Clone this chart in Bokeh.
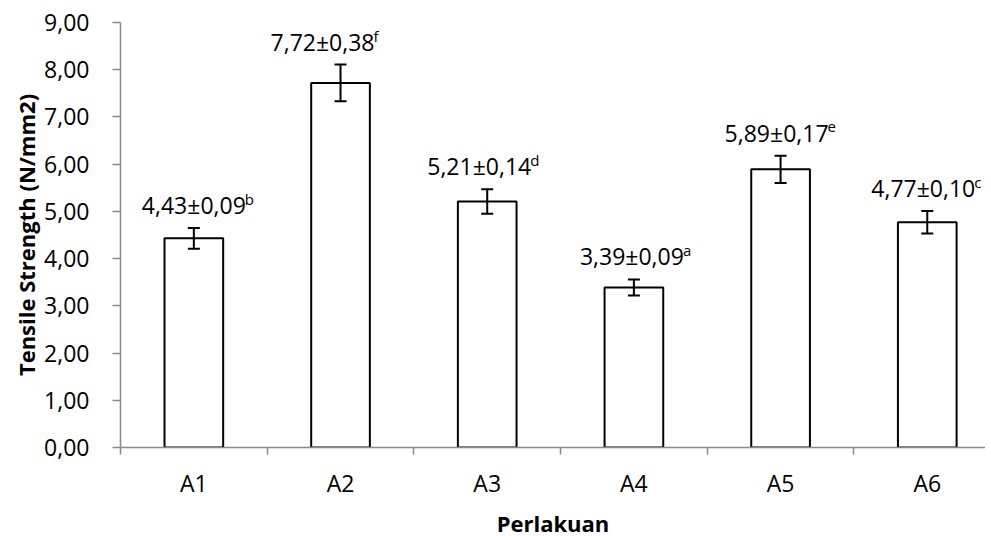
from bokeh.plotting import figure
from bokeh.models import Range1d, FixedTicker, Whisker, ColumnDataSource, TeeHead
from bokeh.core.properties import value
from bokeh.embed import file_html
from bokeh.resources import INLINE

categories = ["A1", "A2", "A3", "A4", "A5", "A6"]
means = [4.43, 7.72, 5.21, 3.39, 5.89, 4.77]
sd_text = ["0,09", "0,38", "0,14", "0,09", "0,17", "0,10"]
letters = ["b", "f", "d", "a", "e", "c"]
err = [0.22, 0.39, 0.26, 0.17, 0.29, 0.24]
y_ticks = [0, 1, 2, 3, 4, 5, 6, 7, 8, 9]
y_tick_labels = ["0,00", "1,00", "2,00", "3,00", "4,00", "5,00", "6,00", "7,00", "8,00", "9,00"]
x_title = "Perlakuan"
y_title = "Tensile Strength (N/mm2)"
label_shift = [4, -14, -4, 2, 0, 0]

FONT = "Open Sans"
AXIS_COLOR = "#898989"

xs = [i + 0.5 for i in range(len(categories))]
main_txt = [f"{m:.2f}".replace(".", ",") + "\u00b1" + s for m, s in zip(means, sd_text)]
main_dx = [d - 4 for d in label_shift]
sup_dx = [d + 51 for d in main_dx]

src = ColumnDataSource(dict(
    x=xs, top=means,
    upper=[m + e for m, e in zip(means, err)],
    lower=[m - e for m, e in zip(means, err)],
    main=main_txt, sup=letters, mdx=main_dx, sdx=sup_dx,
))

p = figure(frame_width=865, frame_height=425, output_backend="svg", toolbar_location=None,
           x_range=Range1d(0, 5.897), y_range=Range1d(0, 9),
           min_border_left=120, min_border_top=22, min_border_right=0, min_border_bottom=0)
p.outline_line_color = None
p.xgrid.visible = False
p.ygrid.visible = False
p.background_fill_color = "white"
p.border_fill_color = "white"

p.vbar(x="x", top="top", width=0.4, bottom=0, source=src,
       fill_color="white", line_color="black", line_width=2)

wh = Whisker(source=src, base="x", upper="upper", lower="lower",
             line_color="black", line_width=2, level="annotation",
             upper_head=TeeHead(size=12, line_color="black", line_width=2),
             lower_head=TeeHead(size=12, line_color="black", line_width=2))
p.add_layout(wh)

p.text(x="x", y="upper", text="main", source=src, x_offset="mdx", y_offset=-23,
       text_align="center", text_baseline="alphabetic",
       text_font=value(FONT), text_font_size="23px", text_color="black")
p.text(x="x", y="upper", text="sup", source=src, x_offset="sdx", y_offset=-29,
       text_align="left", text_baseline="alphabetic",
       text_font=value(FONT), text_font_size="15px", text_color="black")

# y axis
ya = p.yaxis[0]
ya.ticker = FixedTicker(ticks=y_ticks)
ya.major_label_overrides = {t: l for t, l in zip(y_ticks, y_tick_labels)}
ya.minor_tick_line_color = None
ya.major_tick_in = 0
ya.major_tick_out = 8
ya.major_label_standoff = 23
ya.axis_line_color = AXIS_COLOR
ya.axis_line_width = 1.5
ya.major_tick_line_color = AXIS_COLOR
ya.major_tick_line_width = 1.5
ya.major_label_text_font = FONT
ya.major_label_text_font_size = "23px"
ya.major_label_text_color = "black"
ya.axis_label = y_title
ya.axis_label_text_font = FONT
ya.axis_label_text_font_style = "bold"
ya.axis_label_text_font_size = "22px"
ya.axis_label_text_color = "black"
ya.axis_label_standoff = 0

# x axis
xa = p.xaxis[0]
xa.ticker = FixedTicker(ticks=xs, minor_ticks=[0, 1, 2, 3, 4, 5, 6])
xa.major_label_overrides = {x: c for x, c in zip(xs, categories)}
xa.major_tick_in = 0
xa.major_tick_out = 0
xa.minor_tick_in = 0
xa.minor_tick_out = 7
xa.minor_tick_line_color = AXIS_COLOR
xa.minor_tick_line_width = 1.5
xa.axis_line_color = AXIS_COLOR
xa.axis_line_width = 1.5
xa.major_label_standoff = 12
xa.major_label_text_font = FONT
xa.major_label_text_font_size = "23px"
xa.major_label_text_color = "black"
xa.axis_label = x_title
xa.axis_label_text_font = FONT
xa.axis_label_text_font_style = "bold"
xa.axis_label_text_font_size = "22px"
xa.axis_label_text_color = "black"
xa.axis_label_standoff = 6

open("out.html", "w").write(file_html(p, INLINE))
